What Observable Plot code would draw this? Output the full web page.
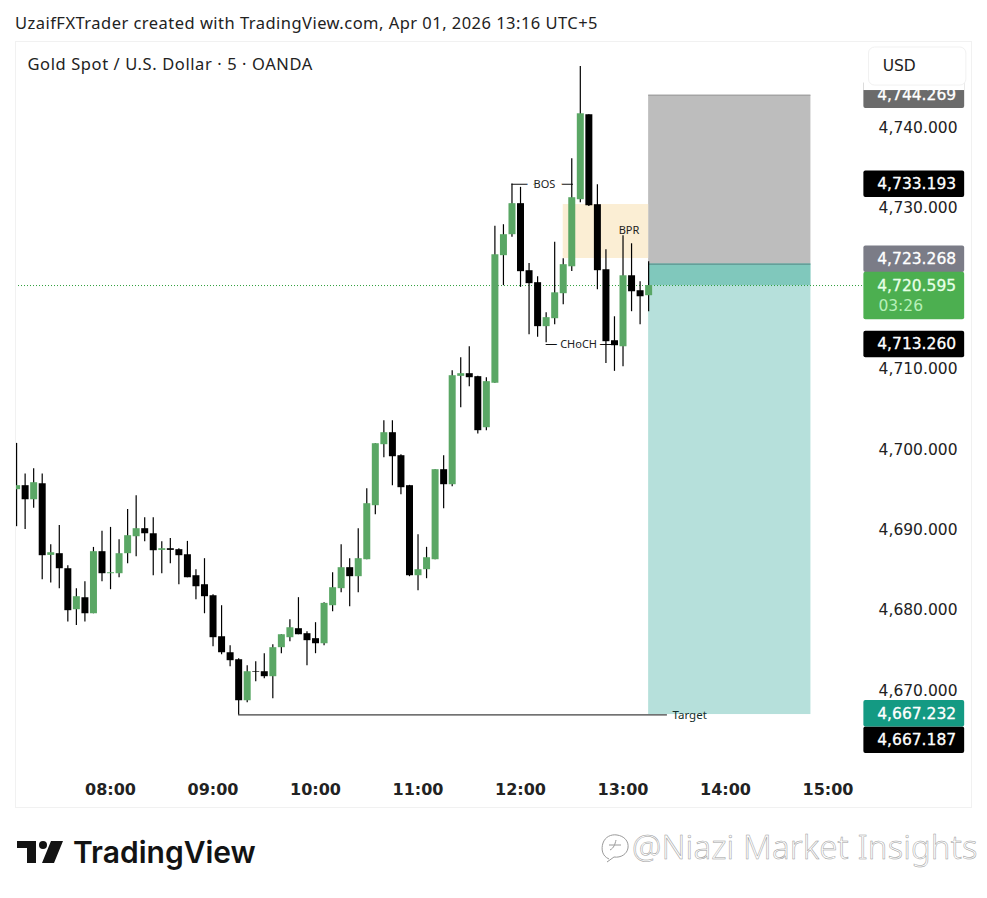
<!DOCTYPE html>
<html><head><meta charset="utf-8">
<script src="https://cdn.jsdelivr.net/npm/d3@7"></script>
<script src="https://cdn.jsdelivr.net/npm/@observablehq/plot@0.6"></script>
<style>
html,body{margin:0;padding:0;background:#fff;width:987px;height:898px;overflow:hidden}
#hdr{position:absolute;left:15px;top:11px;font:16.5px "Noto Sans",sans-serif;letter-spacing:.47px;color:#222;white-space:nowrap}
#chart{position:absolute;left:0;top:41px}
#logo{position:absolute;left:0;top:830px}
#tv{position:absolute;left:73px;top:834px;font:600 30px Inter,sans-serif;color:#131313;letter-spacing:0}
#wm{position:absolute;left:600px;top:826px;width:30px;height:40px}
#wmt{position:absolute;left:632px;top:824px;font:300 33px "Noto Sans",sans-serif;color:#fff;-webkit-text-stroke:.5px #9a9a9a;white-space:nowrap;letter-spacing:.1px}
</style></head><body>
<div id="hdr">UzaifFXTrader created with TradingView.com, Apr 01, 2026 13:16 UTC+5</div>
<div id="chart"></div>
<svg id="logo" width="70" height="40" viewBox="0 0 70 40"><path d="M17 11H36V33H27V18H17Z M51 11H63L54 33H42Z" fill="#131313"/><circle cx="43" cy="15" r="4" fill="#131313"/></svg>
<div id="tv">TradingView</div>
<svg id="wm" viewBox="0 0 30 40"><path d="M9 33 C2 30 1 23 3 17 C5 11 11 8 17 9 C24 10 29 15 28 22 C27 28 21 32 14 31 L7 36 M10 24 C14 22 15 18 16 14 M9 19H21" fill="none" stroke="#9a9a9a" stroke-width="1"/></svg>
<div id="wmt">@Niazi Market Insights</div>
<script>
const firstCandle = "2026-04-01T07:05:00Z";
const opens = [4695.20,4695.70,4693.95,4695.94,4687.03,4687.24,4685.37,4680.27,4681.76,4679.77,4687.49,4684.75,4684.75,4687.24,4689.35,4690.35,4689.72,4687.65,4687.86,4687.74,4687.11,4684.50,4683.38,4682.01,4676.91,4674.92,4674.05,4668.95,4672.55,4672.56,4671.94,4675.55,4676.79,4677.91,4677.29,4676.67,4676.04,4680.77,4682.89,4685.50,4684.38,4686.49,4693.21,4700.80,4702.29,4699.43,4695.70,4684.50,4685.25,4686.49,4697.69,4695.82,4709.30,4709.63,4709.26,4702.91,4708.43,4724.31,4726.92,4730.78,4722.44,4720.95,4715.48,4716.47,4719.58,4722.93,4731.27,4741.84,4730.65,4722.56,4713.73,4712.98,4721.81,4719.95,4719.33];
const closes = [4695.70,4693.95,4696.07,4686.99,4687.36,4685.37,4680.15,4681.89,4679.77,4687.49,4684.75,4684.87,4687.24,4689.48,4690.35,4689.72,4687.61,4687.86,4687.65,4686.99,4684.25,4683.13,4681.89,4676.79,4674.92,4673.93,4668.95,4672.56,4672.47,4671.94,4675.55,4677.16,4678.03,4677.16,4676.42,4676.04,4681.06,4683.01,4685.50,4684.38,4686.62,4693.46,4700.92,4702.29,4699.30,4695.45,4684.50,4685.25,4686.74,4697.69,4695.82,4709.38,4709.63,4709.13,4702.54,4708.64,4724.43,4726.92,4730.78,4722.32,4720.83,4715.48,4716.60,4719.69,4723.19,4731.52,4741.96,4730.52,4722.44,4713.61,4713.11,4721.81,4719.82,4719.20,4720.595];
const highs = [4700.96,4697.15,4697.81,4697.15,4688.36,4690.76,4685.75,4682.88,4683.75,4688.02,4690.02,4690.51,4688.98,4692.75,4694.45,4691.72,4691.72,4688.73,4689.14,4687.86,4688.77,4685.25,4686.62,4682.14,4680.77,4675.79,4674.18,4673.31,4673.81,4674.80,4675.92,4677.16,4679.03,4681.77,4677.54,4678.66,4681.15,4684.88,4688.36,4686.62,4690.35,4695.32,4700.92,4703.78,4703.78,4699.55,4695.74,4689.60,4688.03,4697.69,4699.43,4710.00,4711.62,4712.99,4709.30,4709.13,4727.96,4728.16,4733.22,4732.81,4723.35,4721.70,4717.22,4725.97,4723.93,4736.37,4747.85,4741.84,4733.13,4725.05,4716.71,4726.79,4725.79,4721.07,4723.56];
const lows = [4690.60,4690.26,4692.88,4684.00,4683.59,4682.88,4678.74,4678.32,4678.74,4679.77,4683.75,4682.76,4684.25,4686.00,4686.86,4688.73,4684.50,4684.75,4686.00,4683.38,4684.25,4681.52,4679.77,4675.67,4674.67,4673.18,4667.17,4668.71,4671.32,4671.69,4669.20,4674.80,4676.29,4677.16,4673.31,4674.80,4675.80,4680.03,4682.39,4680.65,4682.39,4686.49,4692.09,4699.18,4695.70,4694.58,4684.38,4682.64,4684.13,4686.49,4692.84,4695.57,4705.40,4708.01,4702.13,4702.54,4708.43,4720.58,4726.59,4720.37,4714.48,4714.15,4713.49,4715.73,4718.21,4722.35,4730.89,4730.44,4720.07,4710.91,4709.92,4710.50,4717.34,4715.72,4717.34];
const priceTicksShown = [4740,4730,4710,4700,4690,4680,4670];
const hourTicks = ["08:00","09:00","10:00","11:00","12:00","13:00","14:00","15:00"];
const stopLevel = 4744.269, entryLevel = 4723.268, targetLevel = 4667.232, lastPrice = 4720.595;
const bosLevel = 4733.193, chochLevel = 4713.26, swingLow = 4667.187;
const bprTop = 4730.67, bprBottom = 4723.96;
const tagValues = [4733.193, 4713.26, 4667.187, 4744.269, 4723.268, 4667.232];
const tagSlots  = [4733.193, 4713.26, 4664.04, 4744.269, 4723.86, 4667.33];
const tagColors = ["#000000","#000000","#000000","#6b6b6b","#7b7c87","#149a83"];

const T = s => new Date(`2026-04-01T${s}:00Z`);
const candles = opens.map((o,i)=>({t:d3.utcMinute.offset(new Date(firstCandle),5*i),o,c:closes[i],h:highs[i],l:lows[i]}));
const up = d => d.c >= d.o;
const GREEN = "#5aa765";
const FONT = '"DejaVu Sans",sans-serif';
const tagL = T("15:21"), tagR = T("16:20"), labelR = T("16:15");
const fmt = d3.format(",.3f");
const tags = tagValues.map((v,i)=>({v,slot:tagSlots[i],fill:tagColors[i]}));

const plot = Plot.plot({
  width:987,height:767,marginLeft:15,marginRight:16,marginTop:0,marginBottom:1,
  style:{background:"#fff",overflow:"visible"},
  x:{type:"utc",domain:[new Date("2026-04-01T07:04:22Z"),new Date("2026-04-01T16:24:00Z")]},
  y:{domain:[4655.67,4750.95]},
  marks:[
    Plot.rect([0],{x1:T("13:15"),x2:T("14:50"),y1:entryLevel,y2:stopLevel,fill:"#bdbdbd"}),
    Plot.rect([0],{x1:T("13:15"),x2:T("14:50"),y1:targetLevel,y2:entryLevel,fill:"#b6e0db"}),
    Plot.rect([0],{x1:T("13:15"),x2:T("14:50"),y1:lastPrice,y2:entryLevel,fill:"#80c8bc"}),
    Plot.ruleY([stopLevel],{x1:T("13:15"),x2:T("14:50"),stroke:"#9a9a9a",strokeWidth:1}),
    Plot.ruleY([entryLevel],{x1:T("13:15"),x2:T("14:50"),stroke:"#4f7f7c",strokeWidth:1}),
    Plot.rect([0],{x1:T("12:25"),x2:T("13:15"),y1:bprBottom,y2:bprTop,fill:"#fbeed4"}),
    Plot.ruleY([lastPrice],{x1:new Date("2026-04-01T07:04:22Z"),x2:T("15:21"),stroke:"#2e9e3a",strokeWidth:1,strokeDasharray:"1,2"}),
    Plot.ruleY([bosLevel],{x1:T("11:55"),x2:T("12:31"),stroke:"#111",strokeWidth:1}),
    Plot.ruleY([chochLevel],{x1:T("12:15"),x2:T("12:55"),stroke:"#111",strokeWidth:1}),
    Plot.ruleY([swingLow],{x1:T("09:15"),x2:T("13:26"),stroke:"#111",strokeWidth:1}),
    Plot.ruleX(candles,{x:"t",y1:"l",y2:"h",stroke:"#000",strokeWidth:1.2,clip:true}),
    Plot.ruleX(candles,{x:"t",y1:"o",y2:"c",stroke:d=>up(d)?GREEN:"#000",strokeWidth:7,clip:true}),
    Plot.text(["BOS"],{x:T("12:14"),y:bosLevel,fontSize:11,fontFamily:"'Noto Sans',sans-serif",fill:"#222",stroke:"#fff",strokeWidth:14,paintOrder:"stroke"}),
    Plot.text(["CHoCH"],{x:T("12:34"),y:chochLevel,fontSize:11,fontFamily:"'Noto Sans',sans-serif",fill:"#222",stroke:"#fff",strokeWidth:8,paintOrder:"stroke"}),
    Plot.text(["BPR"],{x:new Date("2026-04-01T13:03:30Z"),y:4727.44,fontSize:11,fontFamily:"'Noto Sans',sans-serif",fill:"#222"}),
    Plot.text(["Target"],{x:T("13:29"),y:swingLow,textAnchor:"start",fontSize:11.5,fontFamily:"'Noto Sans',sans-serif",fill:"#13302b"}),
    Plot.frame({stroke:"#f1f1f1"}),
    Plot.axisX({anchor:"bottom",ticks:hourTicks.map(T),tickFormat:d3.utcFormat("%H:%M"),tickSize:0,tickPadding:-24,fontSize:16,fontFamily:FONT,fontWeight:600,color:"#222",label:null,textAnchor:"middle"}),
    Plot.axisY({anchor:"right",ticks:priceTicksShown,tickFormat:fmt,tickSize:0,tickPadding:-14,textAnchor:"end",fontSize:15.5,fontFamily:FONT,color:"#222",label:null,dy:-1.5}),
    Plot.rect(tags,{x1:tagL,x2:tagR,y1:d=>d.slot-1.65,y2:d=>d.slot+1.65,fill:"fill",rx:2}),
    Plot.rect([0],{x1:tagL,x2:tagR,y1:4716.33,y2:4722.25,fill:"#4caf50",rx:2}),
    Plot.text(tags,{x:labelR,y:"slot",text:d=>fmt(d.v),textAnchor:"end",fontSize:15.5,fontFamily:FONT,fill:"#fff",stroke:"#fff",strokeWidth:.3}),
    Plot.text([fmt(lastPrice)],{x:labelR,y:lastPrice,textAnchor:"end",fontSize:15.5,fontFamily:FONT,fill:"#e6ffe6",stroke:"#e6ffe6",strokeWidth:.3}),
    Plot.text(["03:26"],{x:new Date("2026-04-01T15:29:30Z"),y:4718.1,textAnchor:"start",fontSize:15.5,fontFamily:FONT,fill:"#b6f0b8"}),
    Plot.rect([0],{x1:tagL,x2:tagR,y1:4744.85,y2:4750.2,fill:"#fff"}),
    Plot.rect([0],{x1:T("15:24"),x2:new Date("2026-04-01T16:21:00Z"),y1:4745.47,y2:4750.2,fill:"#fff",stroke:"#f1f1f1",rx:6}),
    Plot.text(["USD"],{x:new Date("2026-04-01T15:32:00Z"),y:4747.85,textAnchor:"start",fontSize:15.5,fontFamily:FONT,fill:"#222"}),
    Plot.text(["Gold Spot / U.S. Dollar · 5 · OANDA"],{frameAnchor:"top-left",dx:12,dy:17,textAnchor:"start",fontSize:16.5,fontFamily:"'Noto Sans',sans-serif",fill:"#222"})
  ]
});
document.getElementById("chart").appendChild(plot);
const label = [...plot.querySelectorAll("text")].find(t=>t.textContent.startsWith("Gold Spot"));
if(label) label.style.letterSpacing=".6px";
</script>
</body></html>
